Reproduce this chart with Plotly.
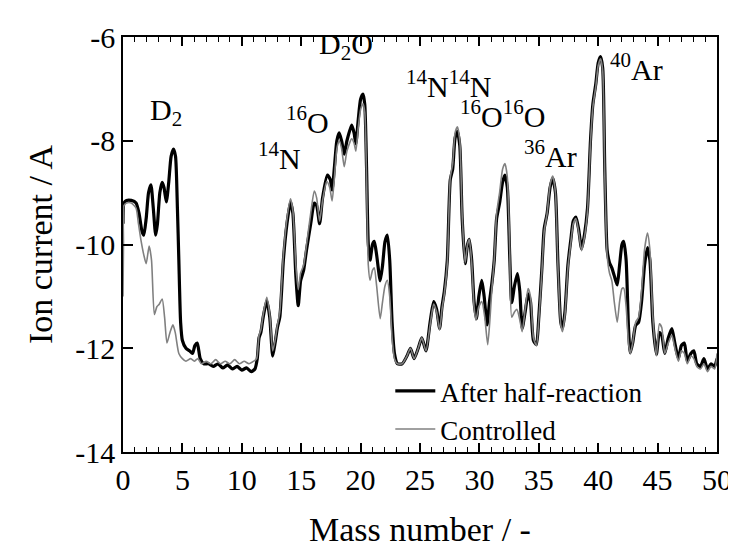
import plotly.graph_objects as go

# ---- data: After half-reaction (black) ----
mass_after = [0.0, 0.08, 0.3, 0.7, 1.1, 1.35, 1.6, 1.75, 1.95, 2.15, 2.35, 2.55, 2.75, 2.9, 3.1, 3.3, 3.45, 3.65, 3.85, 4.05, 4.25, 4.42, 4.58, 4.7, 4.85, 5.0, 5.3, 5.6, 5.85, 6.05, 6.25, 6.5, 6.8, 7.2, 7.6, 8.0, 8.4, 8.8, 9.2, 9.6, 10.0, 10.4, 10.8, 11.1, 11.3, 11.45, 11.6, 11.8, 12.1, 12.35, 12.6, 12.8, 13.0, 13.2, 13.5, 13.8, 14.1, 14.3, 14.55, 14.75, 14.95, 15.2, 15.45, 15.8, 16.1, 16.3, 16.55, 16.8, 17.2, 17.45, 17.6, 17.8, 18.0, 18.2, 18.4, 18.62, 18.85, 19.25, 19.45, 19.6, 19.8, 20.0, 20.2, 20.35, 20.5, 20.65, 20.8, 21.0, 21.15, 21.35, 21.65, 21.85, 22.05, 22.25, 22.45, 22.65, 22.85, 23.1, 23.5, 23.9, 24.2, 24.5, 24.85, 25.15, 25.5, 25.85, 26.15, 26.4, 26.65, 26.85, 27.05, 27.3, 27.55, 27.75, 27.95, 28.15, 28.35, 28.55, 28.8, 29.0, 29.15, 29.35, 29.55, 29.75, 29.95, 30.2, 30.4, 30.65, 30.85, 31.05, 31.25, 31.45, 31.7, 31.95, 32.15, 32.35, 32.55, 32.72, 32.95, 33.2, 33.4, 33.6, 33.85, 34.1, 34.3, 34.55, 34.8, 35.0, 35.25, 35.45, 35.7, 35.95, 36.17, 36.4, 36.6, 36.85, 37.0, 37.2, 37.45, 37.7, 37.9, 38.12, 38.35, 38.6, 38.85, 39.1, 39.35, 39.55, 39.8, 40.0, 40.2, 40.38, 40.55, 40.75, 40.95, 41.15, 41.35, 41.6, 41.8, 42.0, 42.15, 42.35, 42.55, 42.7, 42.9, 43.15, 43.4, 43.65, 43.9, 44.15, 44.35, 44.6, 44.9, 45.15, 45.35, 45.6, 45.9, 46.2, 46.45, 46.75, 47.0, 47.25, 47.5, 47.8, 48.05, 48.3, 48.6, 48.9, 49.2, 49.5, 49.8, 50.0]
current_after = [-9.6, -9.2, -9.15, -9.15, -9.2, -9.4, -9.75, -9.82, -9.5, -9.0, -8.85, -9.3, -9.82, -9.6, -9.0, -8.8, -8.9, -9.18, -8.8, -8.3, -8.16, -8.3, -9.3, -10.3, -11.5, -11.85, -12.0, -12.05, -12.1, -11.95, -11.9, -12.2, -12.3, -12.3, -12.35, -12.3, -12.38, -12.32, -12.4, -12.35, -12.42, -12.38, -12.45, -12.4, -12.2, -11.8, -11.7, -11.4, -11.08, -11.4, -12.15, -11.9, -11.6, -11.4, -10.3, -9.6, -9.18, -9.4, -10.6, -11.18, -10.7, -10.5, -10.1, -9.6, -9.2, -9.25, -9.6, -9.1, -8.66, -8.75, -8.95, -8.5, -8.0, -7.85, -8.0, -8.26, -8.0, -7.7, -7.85, -8.06, -7.6, -7.2, -7.1, -7.3, -8.5, -10.0, -10.3, -10.0, -9.94, -10.2, -10.7, -10.4, -9.95, -9.82, -10.3, -11.5, -12.1, -12.3, -12.3, -12.15, -12.0, -12.2, -12.0, -11.8, -12.05, -11.5, -11.1, -11.25, -11.62, -11.2, -10.9, -10.3, -8.75, -8.55, -7.95, -7.82, -8.1, -9.5, -10.37, -10.0, -9.9, -10.3, -11.1, -11.43, -11.0, -10.69, -11.0, -11.55, -11.1, -10.75, -10.3, -9.5, -9.2, -8.8, -8.66, -8.9, -10.2, -11.12, -10.8, -10.56, -10.9, -11.62, -11.3, -10.95, -11.1, -11.85, -11.93, -11.4, -10.5, -9.7, -9.4, -8.9, -8.72, -9.0, -10.3, -11.5, -11.62, -11.3, -10.4, -9.9, -9.55, -9.47, -9.7, -10.08, -9.8, -9.3, -8.0, -7.3, -6.9, -6.5, -6.38, -6.6, -8.5, -10.1, -10.35, -10.45, -10.6, -10.78, -10.4, -10.0, -9.94, -10.3, -11.6, -12.09, -11.9, -11.56, -11.5, -11.1, -10.4, -10.06, -10.3, -11.5, -12.12, -11.7, -11.75, -12.1, -11.8, -11.62, -11.9, -12.2, -11.95, -11.9, -12.25, -12.1, -12.05, -12.3, -12.35, -12.2, -12.4, -12.3, -12.35, -12.2]

# ---- data: Controlled (gray) ----
mass_ctrl = [0.0, 0.04, 0.08, 0.3, 0.7, 1.1, 1.3, 1.5, 1.75, 1.95, 2.2, 2.4, 2.64, 2.85, 3.05, 3.3, 3.5, 3.7, 3.95, 4.2, 4.4, 4.7, 5.0, 5.3, 5.7, 6.0, 6.3, 6.6, 7.0, 7.4, 7.8, 8.2, 8.6, 9.0, 9.4, 9.8, 10.2, 10.6, 11.0, 11.25, 11.45, 11.6, 11.8, 12.1, 12.35, 12.6, 12.8, 13.0, 13.2, 13.5, 13.8, 14.1, 14.3, 14.55, 14.75, 14.95, 15.2, 15.45, 15.8, 16.1, 16.3, 16.55, 16.8, 17.15, 17.4, 17.6, 17.8, 18.0, 18.2, 18.4, 18.62, 18.85, 19.25, 19.45, 19.6, 19.8, 20.0, 20.2, 20.35, 20.5, 20.65, 20.8, 21.0, 21.15, 21.35, 21.65, 21.85, 22.05, 22.25, 22.45, 22.65, 22.85, 23.1, 23.5, 23.9, 24.2, 24.5, 24.85, 25.15, 25.5, 25.85, 26.15, 26.4, 26.65, 26.85, 27.05, 27.3, 27.55, 27.75, 27.95, 28.15, 28.35, 28.55, 28.8, 29.0, 29.15, 29.35, 29.55, 29.7, 29.95, 30.2, 30.45, 30.7, 30.9, 31.05, 31.25, 31.45, 31.7, 31.95, 32.15, 32.35, 32.55, 32.72, 32.95, 33.15, 33.4, 33.6, 33.85, 34.1, 34.3, 34.55, 34.8, 35.0, 35.25, 35.45, 35.7, 35.95, 36.17, 36.4, 36.6, 36.85, 37.0, 37.2, 37.45, 37.7, 37.9, 38.12, 38.35, 38.6, 38.85, 39.1, 39.35, 39.55, 39.8, 40.0, 40.2, 40.38, 40.55, 40.75, 40.95, 41.15, 41.35, 41.6, 41.8, 42.0, 42.15, 42.35, 42.55, 42.7, 42.9, 43.15, 43.4, 43.65, 43.9, 44.15, 44.35, 44.6, 44.9, 45.15, 45.35, 45.6, 45.9, 46.2, 46.45, 46.75, 47.0, 47.25, 47.5, 47.8, 48.05, 48.3, 48.6, 48.9, 49.2, 49.5, 49.8, 50.0]
current_ctrl = [-11.0, -10.0, -9.25, -9.2, -9.2, -9.3, -9.6, -9.9, -10.2, -10.37, -10.03, -10.3, -11.35, -11.2, -11.15, -11.05, -11.4, -11.9, -11.7, -11.55, -11.7, -12.1, -12.2, -12.25, -12.2, -12.25, -12.2, -12.3, -12.25, -12.3, -12.22, -12.3, -12.25, -12.3, -12.22, -12.3, -12.25, -12.3, -12.25, -12.2, -11.75, -11.65, -11.35, -11.02, -11.35, -12.05, -11.85, -11.55, -11.3, -10.2, -9.5, -9.12, -9.35, -10.4, -10.87, -10.55, -10.4, -10.0, -9.4, -8.97, -9.1, -9.55, -9.15, -8.78, -8.9, -9.16, -8.7, -8.15, -8.0, -8.15, -8.5, -8.2, -7.96, -8.05, -8.2, -7.75, -7.4, -7.29, -7.45, -8.7, -10.4, -10.69, -10.5, -10.45, -10.8, -11.43, -11.1, -10.8, -10.69, -11.0, -11.8, -12.2, -12.3, -12.3, -12.15, -12.0, -12.2, -12.0, -11.8, -12.05, -11.55, -11.15, -11.3, -11.65, -11.25, -10.95, -10.35, -8.7, -8.45, -7.85, -7.73, -8.0, -9.45, -10.35, -10.0, -9.9, -10.35, -11.2, -11.46, -11.2, -11.1, -11.4, -11.93, -11.4, -10.85, -10.3, -9.4, -9.0, -8.55, -8.44, -8.7, -10.1, -11.4, -11.3, -11.25, -11.45, -11.68, -11.25, -10.85, -11.0, -11.8, -11.95, -11.45, -10.55, -9.75, -9.4, -8.85, -8.68, -9.0, -10.35, -11.55, -11.68, -11.35, -10.45, -9.95, -9.6, -9.5, -9.75, -10.12, -9.85, -9.35, -8.05, -7.35, -6.95, -6.55, -6.42, -6.65, -8.6, -10.2, -10.55, -10.7, -11.1, -11.5, -11.1, -10.85, -10.84, -11.2, -11.9, -12.1, -11.9, -11.5, -11.4, -10.9, -10.1, -9.78, -10.1, -11.4, -12.15, -11.53, -11.6, -12.1, -11.9, -11.75, -12.0, -12.25, -12.05, -12.1, -12.3, -12.15, -12.2, -12.35, -12.4, -12.3, -12.45, -12.35, -12.4, -12.1]

# ---- axis ticks ----
y_tick_values = [-14, -12, -10, -8, -6]
y_tick_labels = ["-14", "-12", "-10", "-8", "-6"]
x_tick_values = [0, 5, 10, 15, 20, 25, 30, 35, 40, 45, 50]
x_tick_labels = ["0", "5", "10", "15", "20", "25", "30", "35", "40", "45", "50"]

# ---- peak labels ----
label_text = ["D<sub>2</sub>", "<sup>14</sup>N", "<sup>16</sup>O", "D<sub>2</sub>O",
              "<sup>14</sup>N<sup>14</sup>N", "<sup>16</sup>O<sup>16</sup>O",
              "<sup>36</sup>Ar", "<sup>40</sup>Ar"]
label_mass = [3.6, 13.2, 15.5, 18.8, 27.4, 31.95, 36.0, 43.2]
label_current = [-7.45, -8.29, -7.6, -6.17, -6.9, -7.49, -8.25, -6.58]

FONT = "Liberation Serif, Times New Roman, serif"

fig = go.Figure()
fig.add_trace(go.Scatter(x=mass_after, y=current_after, mode="lines",
                         name="After half-reaction",
                         line=dict(color="black", width=3.2, shape="spline", smoothing=0.6)))
fig.add_trace(go.Scatter(x=mass_ctrl, y=current_ctrl, mode="lines",
                         name="Controlled",
                         line=dict(color="#808080", width=1.6, shape="spline", smoothing=0.6)))

for t, xm, yv in zip(label_text, label_mass, label_current):
    fig.add_annotation(x=xm, y=yv, text=t, showarrow=False, borderpad=0,
                       font=dict(family=FONT, size=30, color="black"),
                       xanchor="center", yanchor="middle")

fig.update_layout(
    width=736, height=546,
    margin=dict(l=115, r=22, t=26, b=92),
    paper_bgcolor="white", plot_bgcolor="white",
    font=dict(family=FONT, color="black"),
    showlegend=True,
    legend=dict(x=0.45, y=0.205, xanchor="left", yanchor="top",
                bgcolor="rgba(0,0,0,0)", font=dict(family=FONT, size=27),
                tracegroupgap=0, itemwidth=40),
)
fig.update_xaxes(range=[0, 50], tickvals=x_tick_values, ticktext=x_tick_labels,
                 ticks="inside", ticklen=9, tickwidth=1.5, tickcolor="black",
                 minor=dict(ticks="inside", dtick=1, ticklen=5, tickwidth=1.2, tickcolor="black"),
                 showline=True, linecolor="black", linewidth=1.5, mirror="ticks",
                 showgrid=False, zeroline=False,
                 tickfont=dict(family=FONT, size=30),
                 title=dict(text="Mass number / -", font=dict(family=FONT, size=34), standoff=22))
fig.update_yaxes(range=[-14, -6], tickvals=y_tick_values, ticktext=y_tick_labels,
                 ticks="inside", ticklen=10, tickwidth=1.5, tickcolor="black",
                 showline=True, linecolor="black", linewidth=1.5, mirror="ticks",
                 showgrid=False, zeroline=False,
                 tickfont=dict(family=FONT, size=30),
                 title=dict(text="Ion current / A", font=dict(family=FONT, size=34), standoff=12))

fig.write_html("out.html")
